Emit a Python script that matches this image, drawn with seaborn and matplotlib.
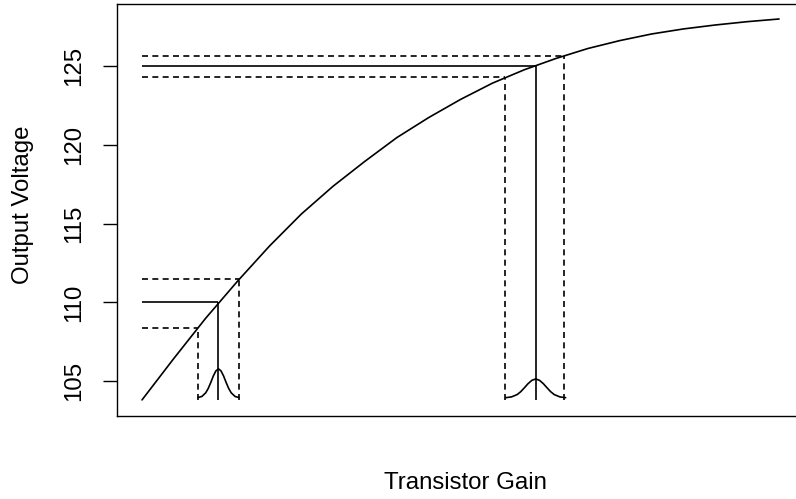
import numpy as np
import pandas as pd
import matplotlib
matplotlib.use("Agg")
import matplotlib.pyplot as plt
import seaborn as sns

# transistor gain vs output voltage (gain in arbitrary units 0-100)
gain = [0, 5, 10, 15, 20, 25, 30, 35, 40, 45, 50, 55, 60, 65, 70, 75, 80,
        85, 90, 95, 100]
voltage = [103.82, 106.45, 109.0, 111.35, 113.57, 115.6, 117.37, 118.95,
           120.45, 121.72, 122.87, 123.9, 124.75, 125.47, 126.1, 126.6,
           127.02, 127.34, 127.59, 127.8, 127.97]

# two design points: nominal gain, gain spread (low / high) and voltages
design_gain = [12, 61.8]
design_lo = [8.8, 57.0]
design_hi = [15.3, 66.2]
design_v = [110.0, 125.0]
design_v_lo = [108.4, 124.3]
design_v_hi = [111.5, 125.63]

# gain distribution bumps (offset from nominal gain, height above base)
bump_base = 103.95
bump1_off = [-3.2, -2.6, -2.0, -1.6, -1.2, -0.8, -0.4, 0, 0.4, 0.8, 1.2, 1.6, 2.0, 2.6, 3.2]
bump1_h = [0.02, 0.09, 0.32, 0.60, 0.98, 1.39, 1.71, 1.84, 1.71, 1.39, 0.98, 0.60, 0.32, 0.09, 0.02]
bump2_off = [-4.7, -3.8, -2.9, -2.35, -1.75, -1.2, -0.6, 0, 0.6, 1.2, 1.75, 2.35, 2.9, 3.8, 4.7]
bump2_h = [0.01, 0.06, 0.21, 0.39, 0.65, 0.90, 1.11, 1.20, 1.11, 0.90, 0.65, 0.39, 0.21, 0.06, 0.01]

sns.set_style("white")
plt.rcParams["font.family"] = ["Liberation Sans", "DejaVu Sans"]
plt.rcParams["text.color"] = "black"
plt.rcParams["axes.labelcolor"] = "black"
plt.rcParams["ytick.color"] = "black"

fig = plt.figure(figsize=(7.96, 4.99), dpi=100)
ax = fig.add_axes([0.1464, 0.1673, 0.8643, 0.8253])

lw = 1.2
dash = (0, (3.6, 2.6))
fs = 17.3

df = pd.DataFrame({"gain": gain, "voltage": voltage})
sns.lineplot(data=df, x="gain", y="voltage", ax=ax, color="black", lw=lw,
             estimator=None, sort=False)

x0 = gain[0]
for g, lo, hi, v, vlo, vhi in zip(design_gain, design_lo, design_hi,
                                  design_v, design_v_lo, design_v_hi):
    ax.hlines(v, x0, g, color="black", lw=lw)
    ax.hlines([vlo, vhi], x0, [lo, hi], color="black", lw=lw, linestyles=[dash])
    ax.vlines(g, voltage[0], v, color="black", lw=lw)
    ax.vlines([lo, hi], voltage[0], [vlo, vhi], color="black", lw=lw, linestyles=[dash])

for g, off, h in [(design_gain[0], bump1_off, bump1_h), (design_gain[1], bump2_off, bump2_h)]:
    bx = [g + o for o in off]
    by = [bump_base + hh for hh in h]
    sns.lineplot(x=bx, y=by, ax=ax, color="black", lw=lw, estimator=None, sort=False)

ax.set_xlim(-4, 104)
ax.set_ylim(102.83, 128.94)
ax.set_xticks([])
ax.set_yticks([105, 110, 115, 120, 125])
ax.tick_params(axis="y", left=True, length=10, width=1.0, color="black",
               labelcolor="black", labelsize=fs, pad=12.5)
for t in ax.get_yticklabels():
    t.set_rotation(90)
    t.set_va("center")
for s in ax.spines.values():
    s.set_color("black")
    s.set_linewidth(1.0)

ax.set_xlabel("Transistor Gain", fontsize=fs, color="black")
ax.set_ylabel("Output Voltage", fontsize=fs, color="black")
ax.xaxis.set_label_coords(0.507, -0.164)
ax.xaxis.label.set_va("center")
ax.yaxis.set_label_coords(-0.136, 0.512)
ax.yaxis.label.set_va("center")

fig.savefig("out.png", dpi=100)
